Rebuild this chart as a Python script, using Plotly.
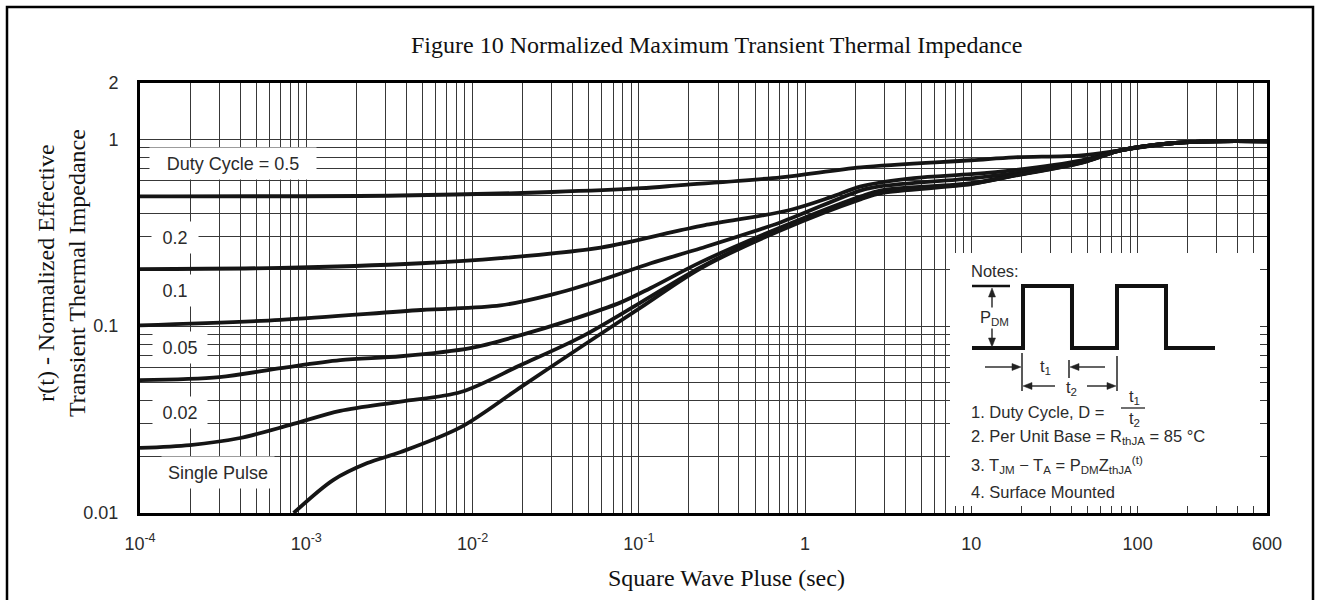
import numpy as np
import plotly.graph_objects as go

# ---------------- data ----------------
t_d05 = [1e-4, 3.7e-3, 0.03, 0.103, 0.179, 0.716, 2.17, 10, 18, 46, 80, 160, 291, 600]
r_d05 = [0.495, 0.50, 0.522, 0.547, 0.568, 0.626, 0.708, 0.772, 0.80, 0.82, 0.874, 0.952, 0.975, 0.975]

t_d02 = [1e-4, 7e-4, 4.9e-3, 0.0147, 0.059, 0.179, 0.25, 0.8, 1.43, 2.17, 4.5, 10, 18, 46, 80, 160, 291, 600]
r_d02 = [0.202, 0.205, 0.217, 0.231, 0.263, 0.326, 0.347, 0.417, 0.49, 0.56, 0.62, 0.650, 0.683, 0.772, 0.874, 0.952, 0.975, 0.975]

t_d01 = [1e-4, 7e-4, 4.9e-3, 0.0147, 0.0295, 0.059, 0.118, 0.236, 0.716, 2.17, 2.87, 10, 18.2, 46, 80, 160, 291, 600]
r_d01 = [0.101, 0.108, 0.122, 0.129, 0.147, 0.176, 0.217, 0.261, 0.36, 0.533, 0.561, 0.618, 0.658, 0.76, 0.874, 0.952, 0.975, 0.975]

t_d005 = [1e-4, 3e-4, 7e-4, 1.6e-3, 3.7e-3, 9.7e-3, 0.0195, 0.039, 0.078, 0.118, 0.236, 0.716, 2.17, 2.87, 10, 18.2, 46, 80, 160, 291, 600]
r_d005 = [0.0514, 0.0534, 0.0596, 0.0658, 0.0690, 0.0763, 0.0895, 0.108, 0.134, 0.160, 0.22, 0.338, 0.495, 0.533, 0.582, 0.642, 0.753, 0.874, 0.952, 0.975, 0.975]

t_d002 = [1e-4, 2e-4, 4e-4, 8e-4, 1.6e-3, 3.7e-3, 8.5e-3, 0.0195, 0.0448, 0.103, 0.236, 0.716, 2.17, 2.87, 10, 18.2, 46, 80, 160, 291, 600]
r_d002 = [0.0223, 0.0231, 0.0252, 0.0296, 0.0352, 0.0395, 0.0444, 0.0619, 0.0873, 0.134, 0.207, 0.33, 0.483, 0.52, 0.578, 0.64, 0.75, 0.874, 0.952, 0.975, 0.975]

t_single = [8.4e-4, 1.45e-3, 2.33e-3, 3.7e-3, 8.5e-3, 0.0195, 0.0448, 0.103, 0.236, 0.716, 2.17, 2.87, 10, 18.2, 46, 80, 160, 291, 600]
r_single = [0.010, 0.015, 0.0185, 0.0212, 0.0288, 0.0472, 0.0773, 0.126, 0.204, 0.326, 0.478, 0.515, 0.575, 0.638, 0.748, 0.874, 0.952, 0.975, 0.975]

series_names = ["Duty Cycle = 0.5", "0.2", "0.1", "0.05", "0.02", "Single Pulse"]

x_major = [1e-4, 1e-3, 1e-2, 1e-1, 1, 10, 100, 600]
x_major_text = ["10<sup>-4</sup>", "10<sup>-3</sup>", "10<sup>-2</sup>", "10<sup>-1</sup>", "1", "10", "100", "600"]
y_major = [0.01, 0.1, 1, 2]
y_major_text = ["0.01", "0.1", "1", "2"]
mantissas = [2, 3, 4, 5, 6, 7, 8, 9]
x_decades = [-4, -3, -2, -1, 0, 1, 2]
y_decades = [-2, -1, 0]

# ---------------- geometry helpers (pixel -> paper) ----------------
W_FIG, H_FIG = 1319, 600
L, R, T, B = 140, 1267, 83, 513
PW, PH = R - L, B - T


def PX(x):
    return (x - L) / PW


def PY(y):
    return (B - y) / PH


# minor gridline positions (2..9 in every decade)
x_minor = [float(f"{m}e{d}") for d in x_decades for m in mantissas if float(f"{m}e{d}") < 600]
y_minor = [float(f"{m}e{d}") for d in y_decades for m in mantissas if float(f"{m}e{d}") < 2]

fig = go.Figure()
curve_sets = [(t_d05, r_d05), (t_d02, r_d02), (t_d01, r_d01),
              (t_d005, r_d005), (t_d002, r_d002), (t_single, r_single)]
for name, (tt, rr) in zip(series_names, curve_sets):
    fig.add_trace(go.Scatter(x=tt, y=rr, mode="lines", name=name,
                             line=dict(color="#151515", width=3.8, shape="spline", smoothing=0.9),
                             showlegend=False, hoverinfo="skip"))

SANS = "Liberation Sans, Arial, Helvetica, sans-serif"
SERIF = "Liberation Serif, Times New Roman, serif"
TXT = "#2b2b2b"
GRID = "#383838"

fig.update_layout(
    width=W_FIG, height=H_FIG, autosize=False,
    margin=dict(l=L, r=W_FIG - R, t=T, b=H_FIG - B, pad=0),
    paper_bgcolor="white", plot_bgcolor="white",
    showlegend=False,
    xaxis=dict(type="log", range=[-4, np.log10(600)], tickmode="array", tickvals=x_major, ticktext=x_major_text,
               showgrid=True, gridcolor=GRID, gridwidth=1.4, zeroline=False,
               minor=dict(tickmode="array", tickvals=x_minor, showgrid=True, gridcolor=GRID, gridwidth=1.3, ticks=""),
               showline=True, linecolor="black", linewidth=3, mirror=True, ticks="",
               tickfont=dict(family=SANS, size=18, color=TXT), ticklabelstandoff=12),
    yaxis=dict(type="log", range=[-2, np.log10(2)], tickmode="array", tickvals=y_major, ticktext=y_major_text,
               showgrid=True, gridcolor=GRID, gridwidth=1.4, zeroline=False,
               minor=dict(tickmode="array", tickvals=y_minor, showgrid=True, gridcolor=GRID, gridwidth=1.3, ticks=""),
               showline=True, linecolor="black", linewidth=3, mirror=True, ticks="",
               tickfont=dict(family=SANS, size=18, color=TXT), ticklabelstandoff=15),
)

shapes = []
# outer frame of the figure
shapes.append(dict(type="rect", xref="paper", yref="paper", x0=PX(7), x1=PX(1313), y0=PY(640), y1=PY(7),
                   line=dict(color="black", width=2.5), fillcolor="rgba(0,0,0,0)", layer="above"))
# notes box (white, covering grid)
shapes.append(dict(type="rect", xref="paper", yref="paper", x0=PX(950), x1=PX(1260), y0=PY(506), y1=PY(253),
                   line=dict(width=0), fillcolor="white", layer="above"))


def poly(points, closed=False):
    p = "M " + " L ".join(f"{PX(a):.5f},{PY(b):.5f}" for a, b in points)
    return p + (" Z" if closed else "")


# pulse waveform
wave_px = [(972, 348), (1023, 348), (1023, 286), (1072, 286), (1072, 348), (1117, 348),
           (1117, 286), (1166, 286), (1166, 348), (1215, 348)]
shapes.append(dict(type="path", xref="paper", yref="paper", path=poly(wave_px),
                   line=dict(color="#111", width=4), layer="above"))
# P_DM top reference line
shapes.append(dict(type="line", xref="paper", yref="paper", x0=PX(972), x1=PX(1010), y0=PY(286), y1=PY(286),
                   line=dict(color="#111", width=2.5), layer="above"))
# dimension tick lines
for xx, y0, y1 in [(1022, 353, 391), (1069, 360, 378), (1117, 356, 391)]:
    shapes.append(dict(type="line", xref="paper", yref="paper", x0=PX(xx), x1=PX(xx), y0=PY(y0), y1=PY(y1),
                       line=dict(color="#222", width=1.5), layer="above"))
# fraction bar
shapes.append(dict(type="line", xref="paper", yref="paper", x0=PX(1121), x1=PX(1145), y0=PY(408), y1=PY(408),
                   line=dict(color="#222", width=1.3), layer="above"))

# arrows (shaft + filled head) drawn as shapes
ARR = "#222"


def h_arrow(head_x, y, tail_x):
    s = 1 if head_x > tail_x else -1
    shapes.append(dict(type="line", xref="paper", yref="paper", x0=PX(tail_x), x1=PX(head_x - s * 6),
                       y0=PY(y), y1=PY(y), line=dict(color=ARR, width=1.4), layer="above"))
    shapes.append(dict(type="path", xref="paper", yref="paper",
                       path=poly([(head_x, y), (head_x - s * 9, y - 3.5), (head_x - s * 9, y + 3.5)], True),
                       fillcolor=ARR, line=dict(color=ARR, width=0.5), layer="above"))


def v_head(x, head_y, s):
    # s = -1 pointing up, +1 pointing down
    shapes.append(dict(type="path", xref="paper", yref="paper",
                       path=poly([(x, head_y), (x - 3.5, head_y - s * 9), (x + 3.5, head_y - s * 9)], True),
                       fillcolor=ARR, line=dict(color=ARR, width=0.5), layer="above"))


# P_DM vertical double arrow
shapes.append(dict(type="line", xref="paper", yref="paper", x0=PX(992), x1=PX(992), y0=PY(292), y1=PY(343),
                   line=dict(color=ARR, width=1.4), layer="above"))
v_head(992, 288, -1)
v_head(992, 347, 1)
# t1 / t2 arrows
h_arrow(1021, 367, 985)
h_arrow(1070, 367, 1105)
h_arrow(1023, 386, 1055)
h_arrow(1116, 386, 1087)

fig.update_layout(shapes=shapes)

ann = []
# title and axis titles
ann.append(dict(text="Figure 10 Normalized Maximum Transient Thermal Impedance", xref="paper", yref="paper",
                x=PX(716), y=PY(45), showarrow=False, font=dict(family=SERIF, size=24, color="#111"),
                xanchor="center", yanchor="middle"))
ann.append(dict(text="Square Wave Pluse (sec)", xref="paper", yref="paper",
                x=PX(726), y=PY(578), showarrow=False, font=dict(family=SERIF, size=24, color="#111"),
                xanchor="center", yanchor="middle"))
ann.append(dict(text="r(t) - Normalized Effective<br>Transient Thermal Impedance", xref="paper", yref="paper",
                x=PX(61), y=PY(273), showarrow=False, textangle=-90,
                font=dict(family=SERIF, size=24, color="#111"), xanchor="center", yanchor="middle"))

# curve labels with white boxes
label_pos = [(233, 163, 162), (175, 237, 42), (175, 290, 46), (180, 347, 50), (180, 412, 50), (218, 472, 108)]
for name, (cx, cy, w) in zip(series_names, label_pos):
    ann.append(dict(text=name, xref="paper", yref="paper", x=PX(cx), y=PY(cy), showarrow=False,
                    font=dict(family=SANS, size=18, color=TXT), bgcolor="white", borderpad=2,
                    width=w, height=27, xanchor="center", yanchor="middle", align="center"))

# notes text
NF = dict(family=SANS, size=16.5, color=TXT)
notes = [
    ("Notes:", 969, 271),
    ("1. Duty Cycle, D =", 969, 412),
    ("2. Per Unit Base = R<sub>thJA</sub> = 85 °C", 969, 437),
    ("3. T<sub>JM</sub> \u2212 T<sub>A</sub> = P<sub>DM</sub>Z<sub>thJA</sub><sup>(t)</sup>", 969, 465),
    ("4. Surface Mounted", 969, 492),
]
for txt, x, y in notes:
    ann.append(dict(text=txt, xref="paper", yref="paper", x=PX(x), y=PY(y), showarrow=False,
                    font=NF, xanchor="left", yanchor="middle"))
# fraction t1/t2
ann.append(dict(text="t<sub>1</sub>", xref="paper", yref="paper", x=PX(1134), y=PY(397), showarrow=False,
                font=NF, xanchor="center", yanchor="middle"))
ann.append(dict(text="t<sub>2</sub>", xref="paper", yref="paper", x=PX(1134), y=PY(419), showarrow=False,
                font=NF, xanchor="center", yanchor="middle"))
# waveform labels
ann.append(dict(text="P<sub>DM</sub>", xref="paper", yref="paper", x=PX(994), y=PY(318), showarrow=False,
                font=NF, bgcolor="white", borderpad=0, xanchor="center", yanchor="middle"))
ann.append(dict(text="t<sub>1</sub>", xref="paper", yref="paper", x=PX(1045), y=PY(367), showarrow=False,
                font=NF, xanchor="center", yanchor="middle"))
ann.append(dict(text="t<sub>2</sub>", xref="paper", yref="paper", x=PX(1071), y=PY(388), showarrow=False,
                font=NF, xanchor="center", yanchor="middle"))

fig.update_layout(annotations=ann)

fig.write_html("out.html")
